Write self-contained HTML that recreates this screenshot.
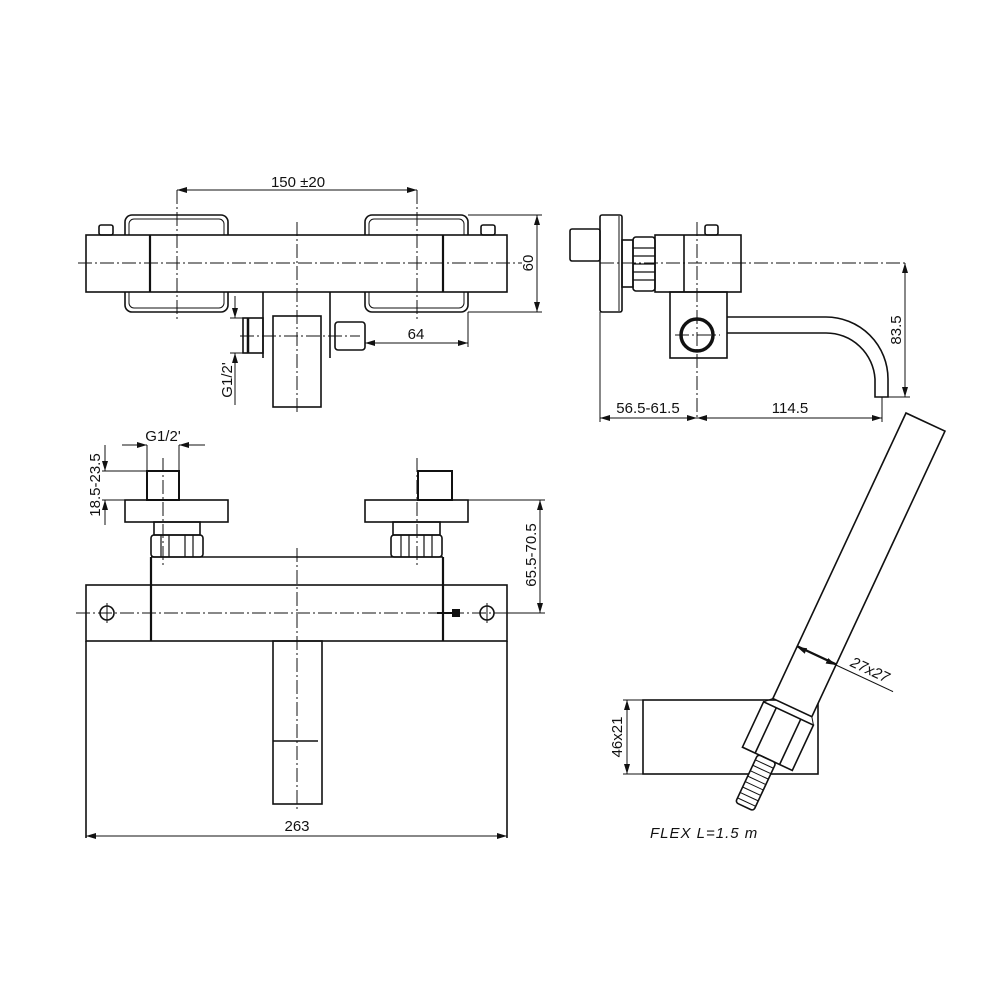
<!DOCTYPE html>
<html><head><meta charset="utf-8"><style>
html,body{margin:0;padding:0;background:#fff}
svg{display:block}
text{font-family:"Liberation Sans",sans-serif;font-size:15px;fill:#111}
</style></head><body>
<svg width="1000" height="1000" viewBox="0 0 1000 1000" xmlns="http://www.w3.org/2000/svg">
<defs>
<marker id="a" viewBox="0 0 10 6" refX="10" refY="3" markerWidth="10" markerHeight="6" orient="auto-start-reverse" markerUnits="userSpaceOnUse"><path d="M0,0 L10,3 L0,6 z" fill="#111"/></marker>
</defs>
<g fill="none" stroke="#111" stroke-width="1.6">
<!-- TOP VIEW -->
<rect x="125" y="215" width="103" height="97" rx="7"/>
<rect x="129" y="219" width="95" height="89" rx="5" stroke-width="1"/>
<rect x="365" y="215" width="103" height="97" rx="7"/>
<rect x="369" y="219" width="95" height="89" rx="5" stroke-width="1"/>
<rect x="86" y="235" width="421" height="57" fill="#fff"/>
<line x1="150" y1="235" x2="150" y2="292" stroke-width="2.2"/>
<line x1="443" y1="235" x2="443" y2="292" stroke-width="2.2"/>
<rect x="99" y="225" width="14" height="10" rx="2"/>
<rect x="481" y="225" width="14" height="10" rx="2"/>
<line x1="263" y1="292" x2="263" y2="358"/>
<line x1="330" y1="292" x2="330" y2="358"/>
<rect x="273" y="316" width="48" height="91"/>
<rect x="243" y="318" width="20" height="35"/>
<line x1="248" y1="318" x2="248" y2="353" stroke-width="2.5"/>
<rect x="335" y="322" width="30" height="28" rx="3"/>
<!-- SIDE VIEW -->
<rect x="570" y="229" width="30" height="32" rx="2"/>
<rect x="600" y="215" width="22" height="97" rx="2"/>
<line x1="619" y1="216" x2="619" y2="311" stroke-width="1"/>
<rect x="622" y="240" width="11" height="47"/>
<rect x="633" y="237" width="22" height="54" rx="3"/>
<path d="M633,248 H655 M633,256 H655 M633,264 H655 M633,272 H655 M633,280 H655" stroke-width="1.2"/>
<rect x="655" y="235" width="86" height="57"/>
<line x1="684" y1="235" x2="684" y2="292"/>
<rect x="705" y="225" width="13" height="10" rx="2"/>
<rect x="670" y="292" width="57" height="66"/>
<circle cx="697" cy="335" r="16" stroke-width="3.5"/>
<path d="M727,317 H826 A62,62 0 0 1 888,379 V397 H875 V379 A49,49 0 0 0 826,333 H727"/>
<!-- FRONT VIEW -->
<rect x="147" y="471" width="32" height="29" stroke-width="2"/>
<rect x="418" y="471" width="34" height="29" stroke-width="2"/>
<rect x="125" y="500" width="103" height="22"/>
<rect x="365" y="500" width="103" height="22"/>
<rect x="154" y="522" width="46" height="13"/>
<rect x="393" y="522" width="47" height="13"/>
<rect x="151" y="535" width="52" height="22" rx="3"/>
<path d="M161,535 V557 M169,535 V557 M185,535 V557 M193,535 V557" stroke-width="1.2"/>
<rect x="391" y="535" width="51" height="22" rx="3"/>
<path d="M401,535 V557 M409,535 V557 M424,535 V557 M432,535 V557" stroke-width="1.2"/>
<path d="M151,557 H443"/>
<line x1="151" y1="557" x2="151" y2="641" stroke-width="2.2"/>
<line x1="443" y1="557" x2="443" y2="641" stroke-width="2.2"/>
<rect x="86" y="585" width="421" height="56"/>
<circle cx="107" cy="613" r="7"/>
<circle cx="487" cy="613" r="7"/>
<path d="M107,603 V623 M487,603 V623" stroke-width="1"/>
<path d="M86,641 V838 M507,641 V838"/>
<rect x="273" y="641" width="49" height="163"/>
<line x1="273" y1="741" x2="318" y2="741"/>
<rect x="452" y="609" width="8" height="8" fill="#111" stroke="none"/>
<line x1="437" y1="613" x2="452" y2="613" stroke-width="2"/>
<!-- HANDSHOWER -->
<rect x="643" y="700" width="175" height="74"/>
<g transform="translate(906,413) rotate(25)">
<rect x="0" y="0" width="43" height="315" fill="#fff"/>
<line x1="0" y1="257" x2="43" y2="257"/>
<rect x="-7" y="322" width="55" height="50" fill="#fff"/>
<line x1="7" y1="322" x2="7" y2="372"/>
<line x1="34" y1="322" x2="34" y2="372"/>
<path d="M0,315 L-7,322 M43,315 L48,322" stroke-width="1"/>
<rect x="10" y="372" width="20" height="53" rx="3" fill="#fff"/>
<path d="M10,378 H30 M10,384 H30 M10,390 H30 M10,396 H30 M10,402 H30 M10,408 H30 M10,414 H30 M10,420 H30" stroke-width="1"/>
</g>
</g>

<!-- centerlines -->
<g fill="none" stroke="#111" stroke-width="1" stroke-dasharray="14 3 2 3">
<line x1="78" y1="263" x2="522" y2="263"/>
<line x1="297" y1="222" x2="297" y2="412"/>
<line x1="177" y1="190" x2="177" y2="320"/>
<line x1="417" y1="190" x2="417" y2="320"/>
<line x1="240" y1="336" x2="360" y2="336"/>
<line x1="600" y1="263" x2="907" y2="263"/>
<line x1="697" y1="222" x2="697" y2="420"/>
<line x1="675" y1="335" x2="720" y2="335"/>
<line x1="163" y1="458" x2="163" y2="565"/>
<line x1="417" y1="458" x2="417" y2="565"/>
<line x1="297" y1="548" x2="297" y2="812"/>
<line x1="76" y1="613" x2="518" y2="613"/>
</g>

<!-- dimensions -->
<g fill="none" stroke="#111" stroke-width="1">
<line x1="177" y1="190" x2="417" y2="190" marker-start="url(#a)" marker-end="url(#a)"/>
<path d="M468,215 H542 M468,312 H542"/>
<line x1="537" y1="215" x2="537" y2="312" marker-start="url(#a)" marker-end="url(#a)"/>
<line x1="468" y1="312" x2="468" y2="347"/>
<line x1="365" y1="343" x2="468" y2="343" marker-start="url(#a)" marker-end="url(#a)"/>
<path d="M235,296 V318 M235,353 V405 M230,318 H243 M230,353 H243"/>
<line x1="235" y1="300" x2="235" y2="318" marker-end="url(#a)"/>
<line x1="235" y1="370" x2="235" y2="353" marker-end="url(#a)"/>
<path d="M600,312 V422 M882,397 V422 M888,397 H910"/>
<line x1="905" y1="263" x2="905" y2="397" marker-start="url(#a)" marker-end="url(#a)"/>
<line x1="600" y1="418" x2="697" y2="418" marker-start="url(#a)" marker-end="url(#a)"/>
<line x1="697" y1="418" x2="882" y2="418" marker-start="url(#a)" marker-end="url(#a)"/>
<path d="M147,445 V471 M179,445 V471"/>
<line x1="122" y1="445" x2="147" y2="445" marker-end="url(#a)"/>
<line x1="205" y1="445" x2="179" y2="445" marker-end="url(#a)"/>
<path d="M102,471 H147 M102,500 H125"/>
<line x1="105" y1="445" x2="105" y2="471" marker-end="url(#a)"/>
<line x1="105" y1="525" x2="105" y2="500" marker-end="url(#a)"/>
<path d="M468,500 H545 M507,613 H545"/>
<line x1="540" y1="500" x2="540" y2="613" marker-start="url(#a)" marker-end="url(#a)"/>
<line x1="86" y1="836" x2="507" y2="836" marker-start="url(#a)" marker-end="url(#a)"/>
<path d="M623,700 H643 M623,774 H643"/>
<line x1="627" y1="700" x2="627" y2="774" marker-start="url(#a)" marker-end="url(#a)"/>
<g transform="translate(906,413) rotate(25)">
<line x1="0" y1="258" x2="43" y2="258" marker-start="url(#a)" marker-end="url(#a)"/>
<line x1="43" y1="258" x2="106" y2="258"/>
</g>
</g>

<!-- labels -->
<text x="298" y="187" text-anchor="middle">150 ±20</text>
<text x="416" y="339" text-anchor="middle">64</text>
<text transform="translate(533,263) rotate(-90)" text-anchor="middle">60</text>
<text transform="translate(232,380) rotate(-90)" text-anchor="middle" font-size="14">G1/2'</text>
<text x="648" y="413" text-anchor="middle">56.5-61.5</text>
<text x="790" y="413" text-anchor="middle">114.5</text>
<text transform="translate(901,330) rotate(-90)" text-anchor="middle">83.5</text>
<text x="163" y="441" text-anchor="middle" font-size="14">G1/2'</text>
<text transform="translate(100,485) rotate(-90)" text-anchor="middle">18.5-23.5</text>
<text transform="translate(536,555) rotate(-90)" text-anchor="middle">65.5-70.5</text>
<text x="297" y="831" text-anchor="middle">263</text>
<text transform="translate(622,737) rotate(-90)" text-anchor="middle">46x21</text>
<text transform="translate(906,413) rotate(25) translate(76,253)" text-anchor="middle" font-style="italic">27x27</text>
<text x="650" y="838" font-style="italic" letter-spacing="1">FLEX  L=1.5  m</text>
</svg>
</body></html>
